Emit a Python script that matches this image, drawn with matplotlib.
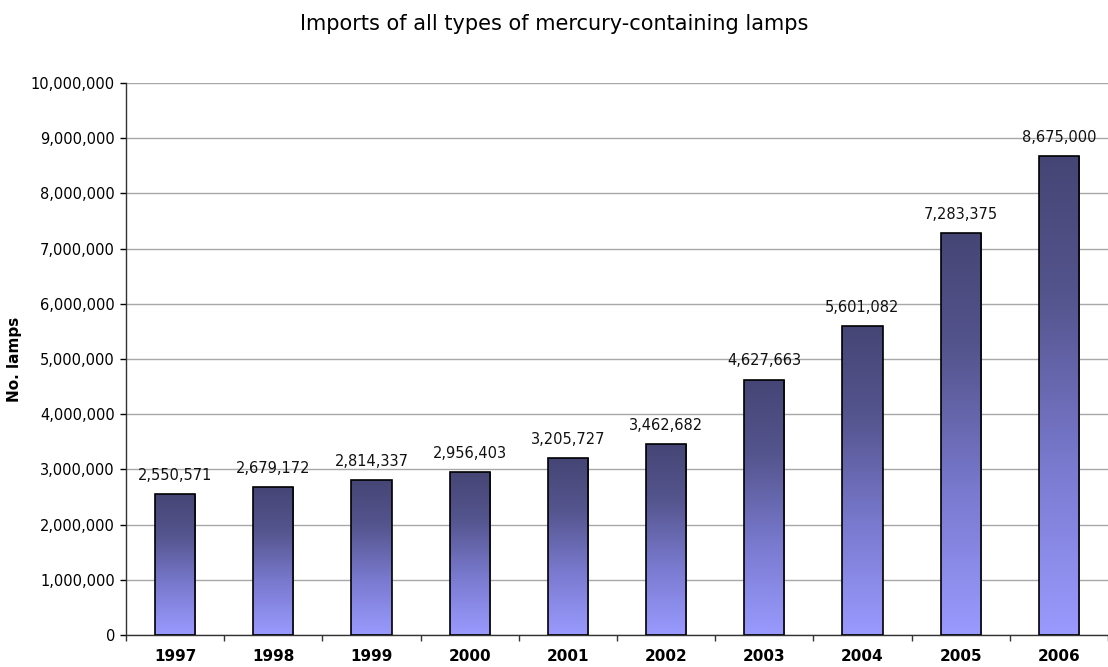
import numpy as np
import matplotlib
matplotlib.use("Agg")
import matplotlib.pyplot as plt
from matplotlib.colors import LinearSegmentedColormap
from matplotlib.patches import Rectangle
from matplotlib.ticker import FuncFormatter, MultipleLocator

years = ["1997", "1998", "1999", "2000", "2001", "2002", "2003", "2004", "2005", "2006"]
lamps = [2550571, 2679172, 2814337, 2956403, 3205727, 3462682, 4627663, 5601082, 7283375, 8675000]

title = "Imports of all types of mercury-containing lamps"
ylabel = "No. lamps"

plt.rcParams["font.family"] = ["DejaVu Sans"]

fig = plt.figure(figsize=(11.08, 6.67), dpi=100)
ax = fig.add_axes([126 / 1108, 1 - 635 / 667, (1108 - 126) / 1108, (635 - 83) / 667])

x = np.arange(len(years))
width = 0.41
ax.set_xlim(-0.5, len(years) - 0.5)
ax.set_ylim(0, 10_000_000)

# top dark navy fading to light lavender at the base of each bar
cmap = LinearSegmentedColormap.from_list(
    "lamp", [(0.0, "#9a9aff"), (0.35, "#7a7ad0"), (0.7, "#55558f"), (1.0, "#454575")]
)
grad = np.linspace(0, 1, 256).reshape(-1, 1)

bars = ax.bar(x, lamps, width=width, color="none", edgecolor="black", linewidth=1.2, zorder=3)
for b in bars:
    x0, y0 = b.get_x(), b.get_y()
    w, h = b.get_width(), b.get_height()
    im = ax.imshow(grad, cmap=cmap, origin="lower", aspect="auto",
                   extent=(x0, x0 + w, y0, y0 + h), zorder=2, interpolation="bilinear")
    clip = Rectangle((x0, y0), w, h, transform=ax.transData)
    im.set_clip_path(clip)

for xi, v in zip(x, lamps):
    ax.annotate(f"{v:,}", (xi, v), xytext=(0, 8), textcoords="offset points",
                ha="center", va="bottom", fontsize=10.5, color="#111111")

ax.yaxis.set_major_locator(MultipleLocator(1_000_000))
ax.yaxis.set_major_formatter(FuncFormatter(lambda v, p: f"{int(v):,}"))
ax.grid(axis="y", color="#a8a8a8", linewidth=1.0, zorder=0)
ax.set_axisbelow(True)

ax.set_xticks(x)
ax.set_xticklabels(years, fontweight="bold", fontsize=11)
ax.set_xticks(np.arange(len(years) + 1) - 0.5, minor=True)
ax.tick_params(axis="x", which="major", length=0, pad=10)
ax.tick_params(axis="x", which="minor", length=4, width=1, color="#333333", direction="out")
ax.tick_params(axis="y", length=4, width=1, direction="out", labelsize=10.5, pad=4)

for side in ("top", "right"):
    ax.spines[side].set_visible(False)
for side in ("left", "bottom"):
    ax.spines[side].set_color("#333333")
    ax.spines[side].set_linewidth(1.0)

ax.set_ylabel(ylabel, fontweight="bold", fontsize=11, labelpad=6)
fig.text(0.5, 1 - 24 / 667, title, ha="center", va="center", fontsize=15)

fig.savefig("out.png", dpi=100)
